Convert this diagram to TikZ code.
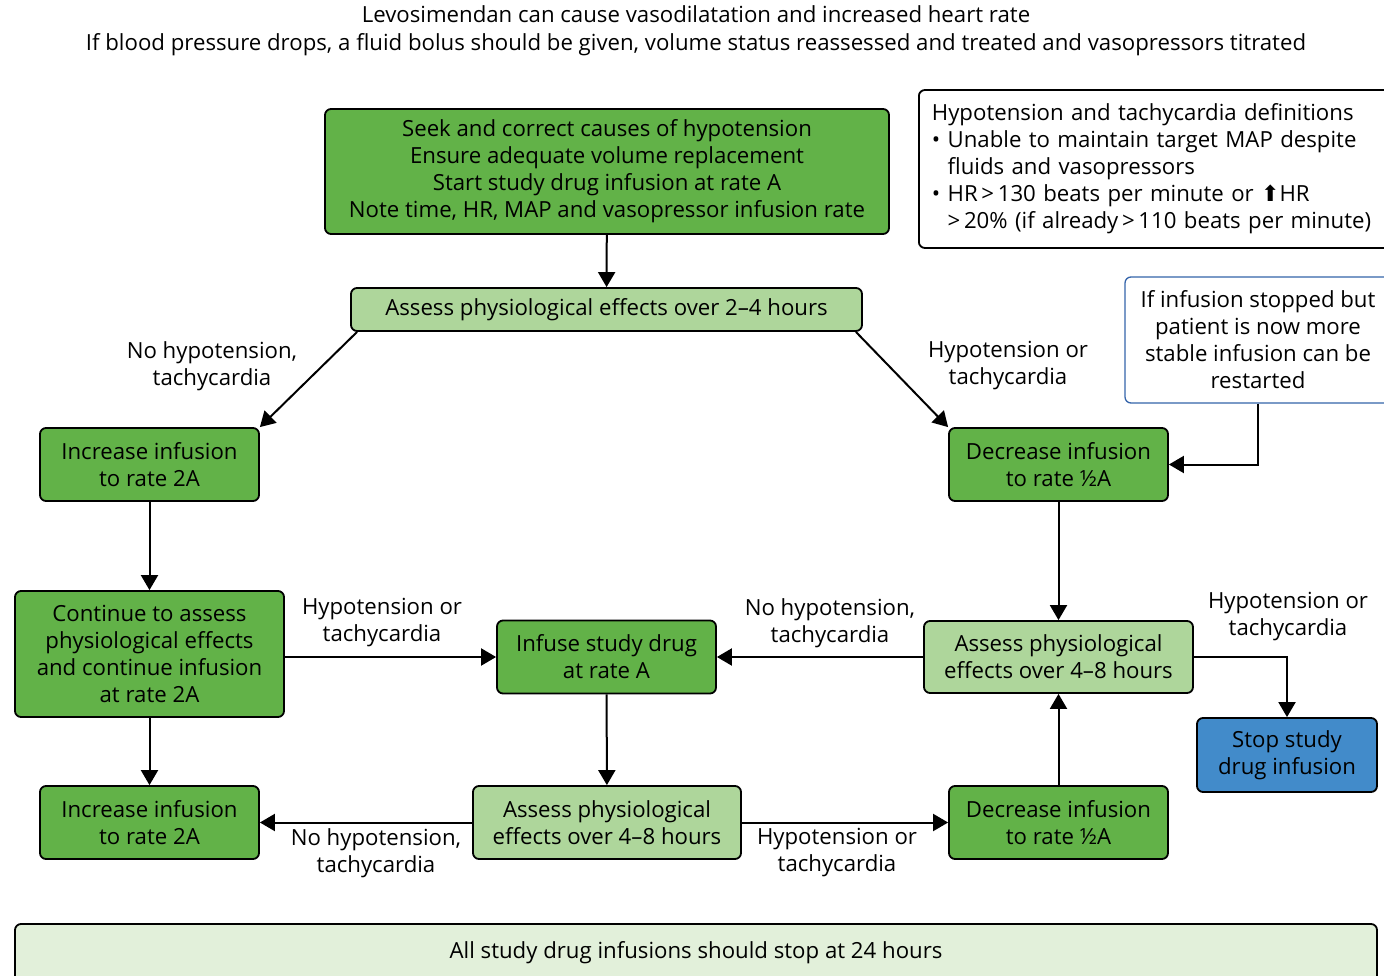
\documentclass[tikz,border=0pt]{standalone}
\usepackage{fontspec}
\setmainfont{Open Sans}
\newfontfamily\symfont{DejaVu Sans}
\usetikzlibrary{arrows.meta,positioning}
\definecolor{actgreen}{RGB}{98,178,72}
\definecolor{checkgreen}{RGB}{174,214,155}
\definecolor{palegreen}{RGB}{226,240,218}
\definecolor{stopblue}{RGB}{66,139,202}
\definecolor{noteblue}{RGB}{52,100,170}
\tikzstyle{box}=[rectangle,rounded corners=6pt,draw,line width=1.8pt,inner sep=0pt,align=center,font=\fontsize{22.2}{27}\selectfont]
\tikzstyle{act}=[box,fill=actgreen,minimum width=219pt,minimum height=73pt]
\tikzstyle{check}=[box,fill=checkgreen]
\tikzstyle{lbl}=[align=center,inner sep=0pt,font=\fontsize{22.2}{27}\selectfont]
\tikzstyle{arr}=[-{Triangle[length=15pt,width=17pt]},draw,line width=2pt]

\begin{document}
\begin{tikzpicture}[x=1pt,y=-1pt]
      \useasboundingbox (0,0) rectangle (1384,976);
      \node[lbl,font=\fontsize{22.2}{28}\selectfont] (title) at (696,31) {Levosimendan can cause vasodilatation and increased heart rate\\If blood pressure drops, a fluid bolus should be given, volume status reassessed and treated and vasopressors titrated};
      \node[act,minimum width=564pt,minimum height=125pt] (start) at (607,171.5) {Seek and correct causes of hypotension\\Ensure adequate volume replacement\\Start study drug infusion at rate A\\Note time, HR, MAP and vasopressor infusion rate};
      \node[box,anchor=west,align=left,text width=460pt,inner xsep=13pt,minimum height=158pt,fill=white] (defs) at (918,169) {Hypotension and tachycardia definitions\\\textbullet\ Unable to maintain target MAP despite\\\phantom{\textbullet\ }fluids and vasopressors\\\textbullet\ HR\,{>}\,130 beats per minute or {\symfont\fontsize{22}{27}\selectfont ⬆}HR\\\phantom{\textbullet\ }{>}\,20\% (if already\,{>}\,110 beats per minute)};
      \node[check,minimum width=511pt,minimum height=43pt] (assess1) at (606.5,309.5) {Assess physiological effects over 2--4 hours};
      \node[box,draw=noteblue,line width=1.3pt,fill=white,minimum width=266pt,minimum height=126pt] (note) at (1258,340) {If infusion stopped but\\patient is now more\\stable infusion can be\\restarted};
      \node[act] (inc1) at (149.5,464.5) {Increase infusion\\to rate 2A};
      \node[act] (dec1) at (1058.5,464.5) {Decrease infusion\\to rate ½A};
      \node[act,minimum width=269pt,minimum height=126pt] (cont) at (149.5,654) {Continue to assess\\physiological effects\\and continue infusion\\at rate 2A};
      \node[act] (infuse) at (606.5,657) {Infuse study drug\\at rate A};
      \node[check,minimum width=269pt,minimum height=72pt] (assess3) at (1058.5,657) {Assess physiological\\effects over 4--8 hours};
      \node[box,fill=stopblue,minimum width=180pt,minimum height=74pt] (stop) at (1287,755) {Stop study\\drug infusion};
      \node[act] (inc2) at (149.5,822.5) {Increase infusion\\to rate 2A};
      \node[check,minimum width=268pt,minimum height=73pt] (assess2) at (607,822.5) {Assess physiological\\effects over 4--8 hours};
      \node[act] (dec2) at (1058.5,822.5) {Decrease infusion\\to rate ½A};
      \node[box,fill=palegreen,minimum width=1362pt,minimum height=58pt] (final) at (696,953) {All study drug infusions should stop at 24 hours};
      % edge labels
      \node[lbl] (l1) at (212,366) {No hypotension,\\tachycardia};
      \node[lbl] (l2) at (1008,366) {Hypotension or\\tachycardia};
      \node[lbl] (l3) at (382,623) {Hypotension or\\tachycardia};
      \node[lbl] (l4) at (830,623) {No hypotension,\\tachycardia};
      \node[lbl] (l5) at (1288,617) {Hypotension or\\tachycardia};
      \node[lbl] (l6) at (376,853) {No hypotension,\\tachycardia};
      \node[lbl] (l7) at (837,853) {Hypotension or\\tachycardia};
      % connectors
      \draw[arr] (start) -- (assess1);
      \draw[arr] ([xshift=7pt]assess1.south west) -- (inc1.north east);
      \draw[arr] ([xshift=-7pt]assess1.south east) -- (dec1.north west);
      \draw[arr] (note.south) |- (dec1.east);
      \draw[arr] (inc1) -- (cont);
      \draw[arr] (dec1) -- (assess3);
      \draw[arr] (cont.east |- infuse.west) -- (infuse.west);
      \draw[arr] (assess3) -- (infuse);
      \draw[arr] (assess3.east) -| (stop.north);
      \draw[arr] (cont) -- (inc2);
      \draw[arr] (infuse) -- (assess2);
      \draw[arr] (assess2) -- (inc2);
      \draw[arr] (assess2) -- (dec2);
      \draw[arr] (dec2) -- (assess3);
  \end{tikzpicture}
\end{document}
